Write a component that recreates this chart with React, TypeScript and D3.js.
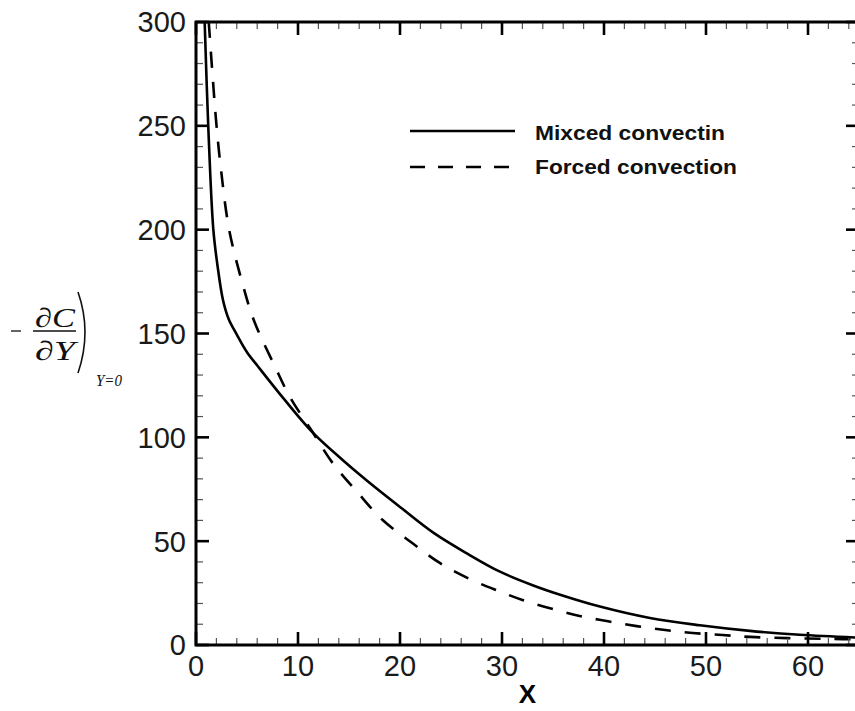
import React from "react";
import * as d3 from "d3";

// Wall concentration gradient along the plate
const mixedX = [0.85, 1.2, 1.7, 2.1, 2.65, 3.2, 4.0, 5.0, 6.1, 8.7, 11.5, 14.4, 16.8, 20, 23.3, 26.6, 29.8, 33, 35.7, 39.6, 44.5, 49.4, 54.3, 59.2, 65];
const mixedY = [300, 250, 200, 183, 166, 157, 149.5, 141, 134, 118, 102, 89, 79, 66.5, 54, 44, 35.3, 28.8, 24.2, 18.5, 13, 9.5, 6.8, 4.9, 3.5];

const forcedX = [1.25, 1.96, 2.45, 3.25, 4.56, 5.7, 7.75, 9.2, 11.3, 13.4, 15.8, 18.3, 21.2, 23.9, 26.6, 29.5, 32, 35, 37.6, 40.4, 43.2, 46, 48.7, 51.6, 54.3, 58, 62.5, 65];
const forcedY = [300, 253, 229, 200, 174, 156, 134, 119.5, 103.5, 87.6, 73.7, 60.2, 49.1, 39.5, 32.3, 26.3, 21.7, 17.3, 14, 11.4, 9.1, 7.2, 5.8, 4.8, 3.9, 3.3, 2.9, 2.7];

const xMajorTicks = [0, 10, 20, 30, 40, 50, 60];
const yMajorTicks = [0, 50, 100, 150, 200, 250, 300];
const legendLabels = ["Mixced convectin", "Forced convection"];

const W = 855;
const H = 711;
const L = 196, R = 859, T = 22, B = 645;

export default function App() {
  const x = d3.scaleLinear().domain([0, 65]).range([L, R]);
  const y = d3.scaleLinear().domain([0, 300]).range([B, T]);

  const xMinor = d3.range(0, 65.01, 2).filter((v) => v % 10 !== 0);
  const yMinor = d3.range(0, 300.01, 10).filter((v) => v % 50 !== 0);

  const line = d3
    .line<[number, number]>()
    .x((d) => x(d[0]))
    .y((d) => y(d[1]))
    .curve(d3.curveCatmullRom.alpha(0.5));

  const mixed = line(mixedX.map((v, i) => [v, mixedY[i]]) as [number, number][]) || "";
  const forced = line(forcedX.map((v, i) => [v, forcedY[i]]) as [number, number][]) || "";

  const majLen = 13;
  const minLen = 7;
  const font = "'Liberation Sans', Arial, sans-serif";
  const serif = "'Liberation Serif', 'Times New Roman', serif";

  return (
    <svg
      width={W}
      height={H}
      viewBox={`0 0 ${W} ${H}`}
      style={{ position: "absolute", left: 0, top: 0, background: "#fff" }}
    >
      <defs>
        <clipPath id="plot">
          <rect x={L} y={T} width={R - L} height={B - T} />
        </clipPath>
      </defs>
      <rect x={0} y={0} width={W} height={H} fill="#fff" />

      {/* curves */}
      <g clipPath="url(#plot)" fill="none" stroke="#000">
        <path d={forced} strokeWidth={2.6} strokeDasharray="16 14" />
        <path d={mixed} strokeWidth={2.6} />
      </g>

      {/* minor ticks on all four sides */}
      <g stroke="#555" strokeWidth={1.2}>
        {xMinor.map((v) => (
          <g key={"xm" + v}>
            <line x1={x(v)} x2={x(v)} y1={B} y2={B - minLen} />
            <line x1={x(v)} x2={x(v)} y1={T} y2={T + minLen} />
          </g>
        ))}
        {yMinor.map((v) => (
          <g key={"ym" + v}>
            <line x1={L} x2={L + minLen} y1={y(v)} y2={y(v)} />
            <line x1={R} x2={R - minLen} y1={y(v)} y2={y(v)} />
          </g>
        ))}
      </g>

      {/* major ticks */}
      <g stroke="#000" strokeWidth={2.6}>
        {xMajorTicks.map((v) => (
          <g key={"xM" + v}>
            <line x1={x(v)} x2={x(v)} y1={B} y2={B - majLen} />
            <line x1={x(v)} x2={x(v)} y1={T} y2={T + majLen} />
          </g>
        ))}
        {yMajorTicks.map((v) => (
          <g key={"yM" + v}>
            <line x1={L} x2={L + majLen} y1={y(v)} y2={y(v)} />
            <line x1={R} x2={R - majLen} y1={y(v)} y2={y(v)} />
          </g>
        ))}
      </g>

      {/* frame */}
      <rect x={L} y={T} width={R - L} height={B - T} fill="none" stroke="#000" strokeWidth={3} />

      {/* tick labels */}
      <g fontFamily={font} fontSize={29} fill="#1a1a1a">
        {yMajorTicks.map((v) => (
          <text key={"yl" + v} x={186} y={y(v)} dy="0.36em" textAnchor="end">
            {v}
          </text>
        ))}
        {xMajorTicks.map((v) => (
          <text key={"xl" + v} x={x(v)} y={676} textAnchor="middle">
            {v}
          </text>
        ))}
      </g>

      {/* x title */}
      <text x={(L + R) / 2} y={703} textAnchor="middle" fontFamily={font} fontWeight="bold" fontSize={26} fill="#000">
        X
      </text>

      {/* y title: -dC/dY |_{Y=0} */}
      <g fill="#111" fontFamily={serif} fontStyle="italic">
        <line x1={11} x2={21} y1={331} y2={331} stroke="#111" strokeWidth={1.3} />
        <line x1={33} x2={76} y1={331} y2={331} stroke="#111" strokeWidth={1.3} />
        <text x={35} y={327} fontSize={27} textLength={40} lengthAdjust="spacingAndGlyphs">∂C</text>
        <text x={35} y={360} fontSize={27} textLength={40} lengthAdjust="spacingAndGlyphs">∂Y</text>
        <path d="M78,292 Q92,332 78,373" fill="none" stroke="#111" strokeWidth={1.6} />
        <text x={96} y={386} fontSize={16} textLength={26} lengthAdjust="spacingAndGlyphs">Y=0</text>
      </g>

      {/* legend */}
      <g>
        <line x1={410} x2={515} y1={131} y2={131} stroke="#000" strokeWidth={2.6} />
        <line x1={410} x2={510} y1={167} y2={167} stroke="#000" strokeWidth={2.6} strokeDasharray="15 13" />
        <text x={535} y={139.5} fontFamily={font} fontWeight="bold" fontSize={20} textLength={190} lengthAdjust="spacingAndGlyphs" fill="#111">
          {legendLabels[0]}
        </text>
        <text x={535} y={174} fontFamily={font} fontWeight="bold" fontSize={20} textLength={202} lengthAdjust="spacingAndGlyphs" fill="#111">
          {legendLabels[1]}
        </text>
      </g>
    </svg>
  );
}
